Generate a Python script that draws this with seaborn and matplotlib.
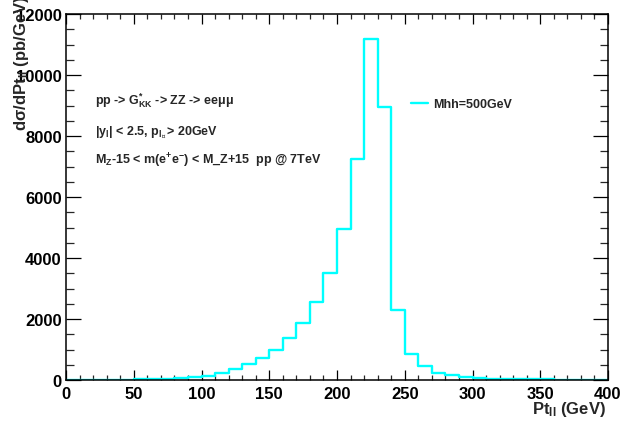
import numpy as np
import pandas as pd
import matplotlib
matplotlib.use("Agg")
import matplotlib.pyplot as plt
from matplotlib.ticker import MultipleLocator
import seaborn as sns

# Pt_ll histogram, 10 GeV bins from 0 to 400 GeV (pb/GeV)
bin_edges = list(range(0, 410, 10))
dsigma = [5, 5, 5, 5, 15, 20, 25, 45, 60, 90,
          133, 245, 367, 520, 722, 1000, 1367, 1869, 2546, 3508,
          4951, 7246, 11180, 8962, 2295, 867, 444, 244, 155, 100,
          67, 45, 40, 25, 22, 20, 12, 10, 8, 6]
series_label = "Mhh=500GeV"

x_ticks = [0, 50, 100, 150, 200, 250, 300, 350, 400]
y_ticks = [0, 2000, 4000, 6000, 8000, 10000, 12000]

sns.set_theme(style="white")
plt.rcParams["font.family"] = ["Liberation Sans", "DejaVu Sans"]
plt.rcParams["font.weight"] = "bold"
plt.rcParams["mathtext.fontset"] = "custom"
plt.rcParams["mathtext.rm"] = "Liberation Sans:bold"
plt.rcParams["mathtext.bf"] = "Liberation Sans:bold"
plt.rcParams["mathtext.it"] = "Liberation Sans:bold"
plt.rcParams["mathtext.sf"] = "DejaVu Sans:bold"
plt.rcParams["mathtext.default"] = "bf"

centers = [(a + b) / 2 for a, b in zip(bin_edges[:-1], bin_edges[1:])]
df = pd.DataFrame({"pt": centers, "w": dsigma})

fig = plt.figure(figsize=(6.24, 4.27), dpi=100)
ax = fig.add_axes([66 / 624, 1 - 381 / 427, (608 - 66) / 624, (381 - 15) / 427])

sns.histplot(data=df, x="pt", weights="w", bins=bin_edges, element="step",
             fill=False, color="#00ffff", linewidth=1.7, ax=ax)

ax.set_xlim(0, 400)
ax.set_ylim(0, 12000)
ax.set_xticks(x_ticks)
ax.set_yticks(y_ticks)
ax.xaxis.set_minor_locator(MultipleLocator(10))
ax.yaxis.set_minor_locator(MultipleLocator(500))
ax.set_xticklabels([str(v) for v in x_ticks], fontsize=12, fontweight="bold")
ax.set_yticklabels([str(v) for v in y_ticks], fontsize=12, fontweight="bold")
ax.tick_params(axis="x", which="major", direction="in", length=7.5, width=0.9,
               top=True, bottom=True, pad=4, colors="black")
ax.tick_params(axis="x", which="minor", direction="in", length=3.8, width=0.9,
               top=True, bottom=True)
ax.tick_params(axis="y", which="major", direction="in", length=11, width=0.9,
               left=True, right=True, pad=3, colors="black")
ax.tick_params(axis="y", which="minor", direction="in", length=5.5, width=0.9,
               left=True, right=True)
for s in ax.spines.values():
    s.set_color("black")
    s.set_linewidth(1.1)
ax.set_xlabel("")
ax.set_ylabel("")

# axis titles, aligned at the ends of the axes
fig.text(606 / 624, 1 - 414 / 427, r"Pt$_{\rm ll}$ (GeV)", ha="right",
         va="baseline", fontsize=12, fontweight="bold")
fig.text(22 / 624, 1 + 4 / 427, r"d$\sigma$/dPt$_{\rm ll}$ (pb/GeV)", rotation=90,
         ha="center", va="top", fontsize=12, fontweight="bold")

# process description
txt_kw = dict(fontsize=9, fontweight="bold", va="baseline")
fig.text(95 / 624, 1 - 105 / 427, r"pp -> G$^{*}_{\rm KK}$ -> ZZ -> ee$\mu\mu$", **txt_kw)
fig.text(95 / 624, 1 - 135 / 427, r"|y$_{\rm l}$| < 2.5, p$_{{\rm l}_{\mathsf{\perp}}}$> 20GeV", **txt_kw)
fig.text(95 / 624, 1 - 165 / 427, r"M$_{\rm Z}$-15 < m(e$^{+}$e$^{-}$) < M_Z+15  pp @ 7TeV", **txt_kw)

# legend entry
fig.lines.append(plt.Line2D([411 / 624, 428 / 624], [1 - 104 / 427, 1 - 104 / 427],
                            transform=fig.transFigure, color="#00ffff", linewidth=1.7))
fig.text(433 / 624, 1 - 108 / 427, series_label, fontsize=9, fontweight="bold", va="baseline")

fig.savefig("out.png", dpi=100)
